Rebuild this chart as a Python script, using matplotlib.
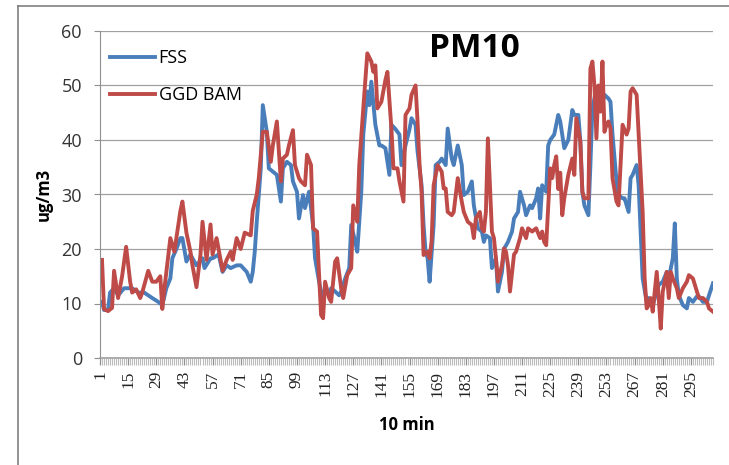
import matplotlib
matplotlib.use('Agg')
import matplotlib.pyplot as plt
from matplotlib.lines import Line2D
import numpy as np

# Messreihen (Index = 10-min-Intervall)
FSS_X = [2, 3, 5, 6, 8, 10, 13, 17, 20, 23, 27, 30, 32, 34, 36, 37, 39, 41, 42, 44,
         46, 47, 49, 52, 53, 56, 57, 60, 62, 64, 66, 69, 71, 74, 76, 77, 78, 79, 81, 82,
         84, 85, 87, 89, 91, 92, 94, 96, 97, 99, 100, 102, 103, 105, 107, 108, 110, 112, 113, 115,
         116, 118, 120, 121, 123, 125, 126, 128, 129, 131, 132, 134, 135, 136, 138, 140, 141, 143, 145, 146,
         148, 150, 151, 153, 155, 156, 158, 159, 161, 162, 163, 164, 165, 167, 168, 170, 171, 173, 174, 176,
         177, 179, 181, 182, 184, 186, 187, 189, 191, 192, 193, 195, 196, 198, 199, 201, 202, 204, 206, 207,
         209, 210, 212, 213, 215, 216, 218, 219, 220, 221, 223, 224, 225, 227, 229, 230, 231, 232, 234, 236,
         237, 239, 240, 241, 242, 244, 245, 246, 248, 249, 251, 252, 254, 255, 256, 258, 259, 261, 262, 264,
         265, 266, 268, 269, 270, 271, 273, 274, 276, 278, 279, 281, 283, 284, 286, 287, 288, 289, 291, 293,
         294, 296, 298, 299, 301, 303, 304, 306]
FSS_Y = [10.3, 8.8, 8.8, 12, 12.8, 11.5, 12.8, 12.8, 12, 12, 11, 10.3, 9.7, 12.8, 14.6, 18.3, 20, 22, 22, 17.7,
         19, 18.3, 17, 18.3, 16.5, 18.3, 18.3, 19, 15.8, 17, 16.5, 17, 17, 15.8, 14, 15.8, 19.5, 25, 34.8, 46.4,
         41.5, 34.8, 34.2, 33.6, 28.7, 34.8, 36, 35.4, 32.4, 30.5, 25.6, 29.9, 27.5, 30.5, 24.4, 18.3, 14, 10.3, 12.8, 11.5,
         12.8, 12.2, 11.5, 12.2, 14.6, 16.5, 24.4, 21.3, 19.5, 30.5, 41, 48.9, 46.4, 50.7, 42.8, 39, 39, 38.5, 33.6, 42.8,
         42, 41, 35.4, 39, 42, 44, 42.8, 37.9, 31.7, 24.4, 19.5, 18.3, 14, 24.4, 35.4, 36, 36.6, 35.4, 42.1, 36.6,
         35.4, 39, 35.4, 29.9, 30.5, 32.4, 28, 23.8, 23.2, 21.3, 22.5, 22, 16.5, 18.3, 12.2, 15.8, 20, 21.3, 23.2, 25.6,
         26.8, 30.5, 28, 26.2, 28, 27.5, 29.3, 31.1, 25.6, 31.7, 30.5, 39, 40, 41, 44.6, 43.4, 41, 38.5, 40, 45.5,
         44.6, 44.6, 39.7, 30.5, 28, 26.2, 35.4, 45.8, 49.5, 47.6, 47, 48.3, 47.6, 47, 41, 32.4, 29.9, 29.3, 29.3, 26.8,
         33, 33.6, 35.4, 31.7, 23.2, 14.6, 10.3, 11, 9.7, 12.2, 13.4, 14, 15.8, 14.6, 18.3, 24.7, 14.6, 11.5, 9.7, 9.1,
         11, 10.3, 11.3, 11.3, 10.3, 10.3, 11.5, 13.7]

BAM_X = [2, 3, 5, 7, 8, 10, 12, 14, 16, 17, 19, 21, 22, 25, 27, 29, 31, 32, 33, 36,
         38, 41, 42, 44, 46, 47, 49, 51, 52, 54, 56, 57, 59, 61, 62, 64, 66, 67, 69, 71,
         73, 76, 77, 79, 80, 82, 84, 86, 87, 89, 91, 92, 94, 95, 97, 98, 100, 101, 103, 104,
         106, 107, 109, 110, 111, 112, 113, 115, 116, 118, 119, 121, 122, 124, 126, 127, 129, 130, 132, 134,
         136, 137, 138, 139, 141, 143, 144, 146, 147, 149, 150, 152, 153, 155, 156, 158, 159, 160, 161, 162,
         164, 165, 166, 167, 169, 171, 172, 173, 174, 176, 177, 179, 181, 182, 184, 186, 187, 188, 190, 191,
         192, 193, 194, 196, 197, 198, 199, 201, 202, 203, 204, 205, 207, 208, 210, 211, 213, 214, 216, 218,
         220, 221, 222, 223, 225, 226, 227, 228, 229, 230, 231, 232, 234, 236, 237, 238, 240, 241, 242, 244,
         245, 246, 247, 248, 249, 250, 251, 252, 253, 254, 255, 256, 258, 259, 260, 261, 263, 264, 265, 266,
         268, 269, 271, 272, 273, 274, 275, 276, 278, 279, 280, 281, 283, 284, 285, 286, 288, 289, 291, 293,
         294, 296, 298, 299, 301, 303, 304, 306]
BAM_Y = [18, 9, 8.6, 9.2, 16, 11, 15, 20.4, 14, 12, 12.6, 11, 12, 16, 14, 14, 15, 9, 12.6, 22,
         19.5, 27, 28.7, 23, 19.5, 17, 13, 19, 25, 18, 24.5, 19, 22, 18, 16, 18, 19.5, 18, 22, 20,
         23, 22.5, 27, 30, 33, 41.5, 41.5, 36, 39, 43.4, 32.4, 36.6, 37.3, 39, 41.8, 35.4, 33, 32.4, 31.7, 37.3,
         35.4, 23.8, 23.2, 15.2, 7.9, 7.3, 14, 11, 10.3, 17.7, 18.3, 12.8, 11, 15.2, 16.5, 28, 25, 35.4, 45.8, 55.9,
         54.4, 52.5, 53.7, 45.8, 47, 51, 52.5, 42, 34.8, 34.8, 32.4, 28.7, 44.6, 45.8, 48.3, 50, 43.4, 35.4, 30.5, 18.9,
         19.5, 18.3, 21.5, 31.7, 35.4, 34.2, 31.1, 31.1, 26.8, 26.2, 26.8, 33, 28.7, 26.8, 25, 24.4, 22, 25.6, 26.8, 23.8,
         23.2, 26.8, 40.3, 23.2, 22, 18.3, 14, 17, 20.1, 19.5, 17, 12.2, 19, 19.5, 22, 23.8, 22, 23.8, 23.2, 23.8,
         22, 23.2, 21.3, 20.7, 34.8, 33, 35.4, 37, 31, 34, 26.2, 29.3, 33.6, 36.6, 33.6, 44, 39.7, 30.5, 29.3, 29.3,
         53.1, 54.4, 50, 40.3, 50, 45.2, 54.4, 41.5, 42.8, 43.4, 42.1, 33, 28.7, 28, 35.4, 42.8, 41, 42.1, 48.9, 49.5,
         48.3, 41, 26.8, 14.6, 9.1, 9.7, 11, 8.5, 15.8, 11, 5.4, 12.2, 15.8, 11, 15.8, 14.6, 12.8, 11, 12.8, 14,
         15.2, 14.6, 12.2, 11, 11, 10.3, 9.1, 8.5]

X_TICKS = list(range(1, 296, 14))
Y_TICKS = [0, 10, 20, 30, 40, 50, 60]
N_INTERVALS = 306

COLORS = {'FSS': '#4A7EBB', 'GGD BAM': '#BE4B48'}
SANS = ['Open Sans', 'DejaVu Sans']
SERIF = ['Liberation Serif', 'DejaVu Serif']

fig = plt.figure(figsize=(7.29, 4.65), dpi=100)
fig.patch.set_facecolor('white')
ax = fig.add_axes([100 / 729, 1 - 358 / 465, 613 / 729, 327 / 465])

ax.plot(FSS_X, FSS_Y, color=COLORS['FSS'], lw=2.8, label='FSS', solid_joinstyle='round')
ax.plot(BAM_X, BAM_Y, color=COLORS['GGD BAM'], lw=2.8, label='GGD BAM', solid_joinstyle='round')

ax.set_xlim(1, N_INTERVALS)
ax.set_ylim(0, 60)

ax.set_yticks(Y_TICKS)
ax.set_yticklabels([str(v) for v in Y_TICKS], fontsize=13, family=SANS, color='#333333')
ax.set_xticks(X_TICKS)
ax.set_xticklabels([str(v) for v in X_TICKS], rotation=90, fontsize=12.5,
                   family=SERIF, color='#222222')
ax.set_xticks(np.arange(1, N_INTERVALS + 1), minor=True)

ax.tick_params(axis='y', direction='out', length=4, width=0.8, color='#909090', pad=9)
ax.tick_params(axis='x', which='major', direction='out', length=5, width=0.9,
               color='#909090', pad=4)
ax.tick_params(axis='x', which='minor', direction='out', length=5, width=0.8, color='#BDBDBD')

ax.yaxis.grid(True, color='#A0A0A0', lw=0.9)
ax.set_axisbelow(True)
for side in ('top', 'right'):
    ax.spines[side].set_visible(False)
ax.spines['left'].set_color('#909090')
ax.spines['bottom'].set_color('#A0A0A0')
ax.spines['bottom'].set_linewidth(1.2)

ax.set_ylabel('ug/m3', fontsize=12, fontweight='bold', family=SANS)
ax.yaxis.set_label_coords(-0.091, 0.5)
ax.yaxis.label.set_va('center')
ax.set_xlabel('10 min', fontsize=12, fontweight='bold', family=SANS)
ax.xaxis.set_label_coords(0.5, -0.205)
ax.xaxis.label.set_va('center')

ax.text(0.61, 0.948, 'PM10', transform=ax.transAxes, ha='center', va='center',
        fontsize=24, fontweight='bold', family=SANS)

leg = ax.legend(loc='upper left', bbox_to_anchor=(0.016, 0.945), borderaxespad=0,
                borderpad=0, frameon=False, handlelength=2.5, handletextpad=0.2,
                labelspacing=1.05, prop={'family': SANS, 'size': 13})

# Rahmen des Ausschnitts (oben und links)
fig.add_artist(Line2D([18 / 729, 1], [1 - 6 / 465, 1 - 6 / 465], color='#808080', lw=1.2))
fig.add_artist(Line2D([18 / 729, 18 / 729], [0, 1 - 6 / 465], color='#808080', lw=1.2))

fig.savefig('out.png', dpi=100, facecolor='white')
